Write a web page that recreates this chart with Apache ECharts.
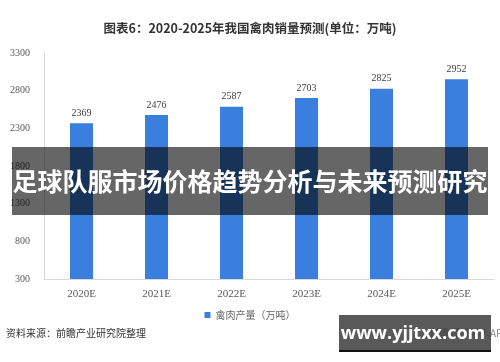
<!DOCTYPE html>
<html><head><meta charset="utf-8">
<script src="https://cdn.jsdelivr.net/npm/echarts@6/dist/echarts.min.js"></script>
<style>html,body{margin:0;padding:0;background:#fff}#c{width:500px;height:362px}</style>
</head><body><div id="c"></div>
<script>
const categories = ['2020E','2021E','2022E','2023E','2024E','2025E'];
const values = [2369, 2476, 2587, 2703, 2825, 2952];
const seriesName = '禽肉产量（万吨）';
const titleText = '图表6：2020-2025年我国禽肉销量预测(单位：万吨)';
const bannerText = '足球队服市场价格趋势分析与未来预测研究';
const sourceText = '资料来源：前瞻产业研究院整理';
const siteText = 'www.yjjtxx.com';

const chart = echarts.init(document.getElementById('c'));
chart.setOption({
  animation: false,
  title: {
    text: titleText, left: 'center', top: 17,
    textStyle: {fontSize: 12.5, fontWeight: 'bold', color: '#333', fontFamily: 'Noto Sans CJK SC'}
  },
  legend: {
    data: [seriesName], top: 305, left: 'center', itemWidth: 6, itemHeight: 6, itemGap: 4,
    icon: 'rect',
    textStyle: {fontSize: 10, color: '#666', fontFamily: 'Noto Sans CJK SC'}
  },
  grid: {left: 44, right: 6, top: 53, bottom: 83},
  xAxis: {
    type: 'category', data: categories,
    axisLine: {lineStyle: {color: '#d9d9d9'}},
    axisTick: {show: false},
    axisLabel: {fontSize: 11, color: '#595959', fontFamily: 'Liberation Serif', margin: 10}
  },
  yAxis: {
    type: 'value', min: 300, max: 3300, interval: 500,
    axisLine: {show: true, lineStyle: {color: '#d9d9d9'}},
    axisTick: {show: false},
    splitLine: {show: false},
    axisLabel: {fontSize: 10, color: '#595959', fontFamily: 'Liberation Serif', margin: 14, formatter: v => String(v)}
  },
  series: [{
    name: seriesName, type: 'bar', data: values, barWidth: 23,
    itemStyle: {color: '#3a7fdd'},
    label: {show: true, position: 'top', distance: 5, fontSize: 10, color: '#404040', fontFamily: 'Liberation Serif'}
  }],
  graphic: [
    {type: 'text', left: 6, top: 328, style: {text: sourceText, fontSize: 10, fill: '#333', fontFamily: 'Noto Sans CJK SC'}},
    {type: 'rect', shape: {x: 12, y: 147, width: 476, height: 68}, style: {fill: 'rgba(0,0,0,0.6)'}, z: 100},
    {type: 'text', x: 250, y: 181, style: {text: bannerText, fontSize: 25, fontWeight: 'bold', fill: '#fff', align: 'center', verticalAlign: 'middle', fontFamily: 'Noto Sans CJK SC'}, z: 101},
    {type: 'text', x: 430, y: 333, style: {text: '前瞻经济学人APP', fontSize: 10, fill: '#888', align: 'left', verticalAlign: 'middle', fontFamily: 'Noto Sans CJK SC'}, z: 99},
    {type: 'rect', shape: {x: 339, y: 315, width: 152, height: 36}, style: {fill: 'rgba(60,60,60,0.85)'}, z: 100},
    {type: 'rect', shape: {x: 339, y: 350, width: 152, height: 2}, style: {fill: '#111'}, z: 100},
    {type: 'text', x: 413, y: 334, style: {text: siteText, fontSize: 18, fontWeight: 'bold', fill: '#fff', align: 'center', verticalAlign: 'middle', fontFamily: 'Open Sans'}, z: 101}
  ]
});
</script></body></html>
